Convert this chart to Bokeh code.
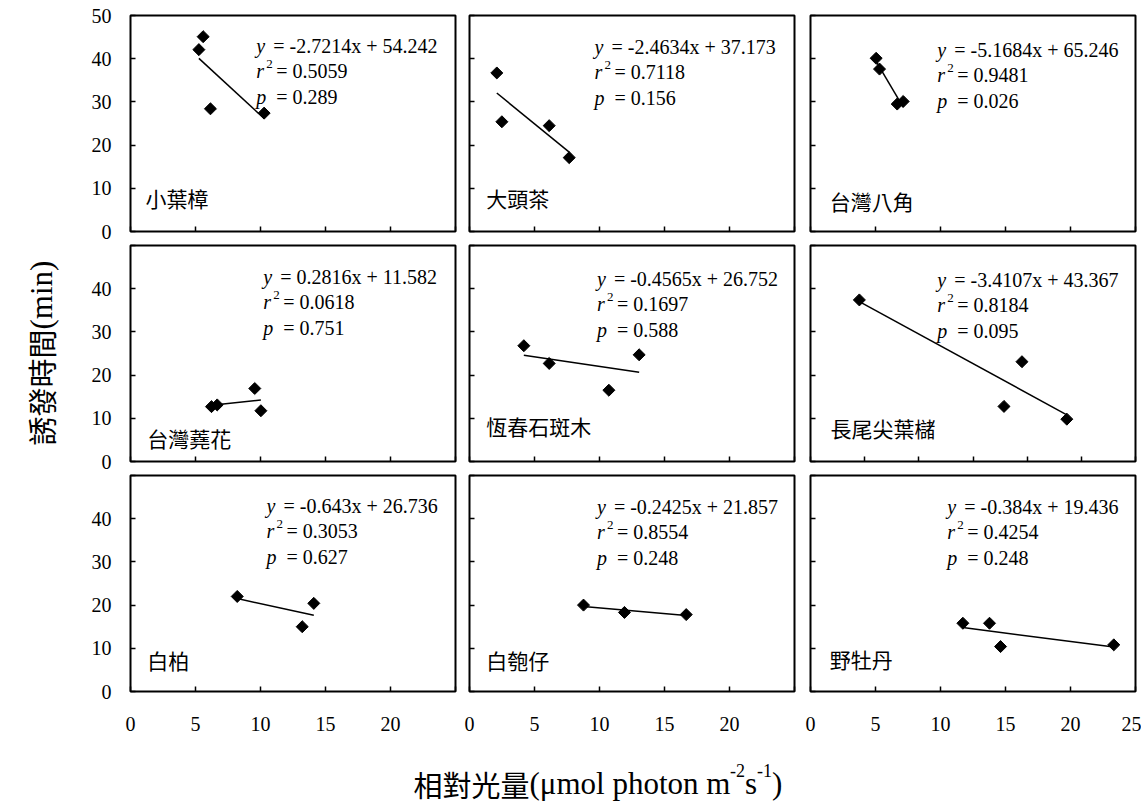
import numpy as np
from bokeh.plotting import figure
from bokeh.layouts import column, row
from bokeh.models import FixedTicker, Range1d, ColumnDataSource
from bokeh.core.properties import value
from bokeh.embed import file_html
from bokeh.resources import INLINE

SERIF = "Liberation Serif"
CJK = "Noto Sans CJK TC"

# Species shown in the 3 x 3 panels (row by row)
species = ["小葉樟", "大頭茶", "台灣八角",
           "台灣蕘花", "恆春石斑木", "長尾尖葉櫧",
           "白柏", "白匏仔", "野牡丹"]

# Relative light (µmol photon m-2 s-1) and induction time (min) per species
light_xiaoyezhang = [5.59, 5.26, 6.15, 10.28]
time_xiaoyezhang = [45.1, 42.1, 28.4, 27.4]
light_datoucha = [2.10, 2.49, 6.13, 7.67]
time_datoucha = [36.7, 25.4, 24.5, 17.1]
light_bajiao = [5.05, 5.31, 6.67, 7.13]
time_bajiao = [40.1, 37.6, 29.5, 30.1]
light_raohua = [6.23, 6.67, 9.56, 10.03]
time_raohua = [12.7, 13.1, 16.9, 11.75]
light_shibanmu = [4.18, 6.13, 10.72, 13.05]
time_shibanmu = [26.8, 22.7, 16.5, 24.7]
light_zhu = [4.51, 17.86, 19.52, 23.66]
time_zhu = [37.4, 12.75, 23.1, 9.8]
light_baibo = [8.21, 13.21, 14.10]
time_baibo = [22.0, 15.0, 20.4]
light_baipaozai = [8.77, 11.92, 16.67]
time_baipaozai = [20.0, 18.3, 17.8]
light_yemudan = [11.72, 13.77, 14.62, 23.33]
time_yemudan = [15.8, 15.8, 10.4, 10.8]

light_sets = [light_xiaoyezhang, light_datoucha, light_bajiao,
              light_raohua, light_shibanmu, light_zhu,
              light_baibo, light_baipaozai, light_yemudan]
time_sets = [time_xiaoyezhang, time_datoucha, time_bajiao,
             time_raohua, time_shibanmu, time_zhu,
             time_baibo, time_baipaozai, time_yemudan]

# Regression annotations
eq_rhs = ["= -2.7214x + 54.242", "= -2.4634x + 37.173", "= -5.1684x + 65.246",
          "= 0.2816x + 11.582", "= -0.4565x + 26.752", "= -3.4107x + 43.367",
          "= -0.643x + 26.736", "= -0.2425x + 21.857", "= -0.384x + 19.436"]
r2_text = ["= 0.5059", "= 0.7118", "= 0.9481",
           "= 0.0618", "= 0.1697", "= 0.8184",
           "= 0.3053", "= 0.8554", "= 0.4254"]
p_text = ["= 0.289", "= 0.156", "= 0.026",
          "= 0.751", "= 0.588", "= 0.095",
          "= 0.627", "= 0.248", "= 0.248"]

x_max = [25, 25, 25, 25, 25, 30, 25, 25, 25]
y_ticks = [0, 10, 20, 30, 40, 50]

# ---- layout geometry (pixels) ----
YT_W = 70                      # strip holding the vertical axis title
FRAME_W, FRAME_H = 325, 216
col_left = [60, 7, 8]
col_right = [7, 8, 6]
row_top = [15, 1, 1]
row_bottom = [13, 13, 48]
GRID_H = sum(row_top) + 3 * FRAME_H + sum(row_bottom)
GRID_W = YT_W + sum(col_left) + 3 * FRAME_W + sum(col_right)

# annotation placement inside each frame (pixels from frame left / top / bottom)
eq_left_px = [125.7, 125, 126.7, 132.7, 127.4, 126.7, 136, 127.4, 136.7]
eq_top_px = [30, 31.7, 34, 31.7, 33.3, 34, 30, 31.7, 31.7]
name_left_px = [15, 16.7, 19.3, 16.7, 16.7, 20, 16.7, 16.7, 19.3]
name_bottom_px = [33.7, 34, 30.7, 23.4, 35.7, 34, 31.4, 31.7, 32.4]


def style_axis(ax):
    ax.axis_line_color = None
    ax.major_tick_in = 5
    ax.major_tick_out = 0
    ax.minor_tick_line_color = None
    ax.major_tick_line_color = "black"
    ax.major_tick_line_width = 1.5
    ax.major_label_text_font = SERIF
    ax.major_label_text_font_size = "20px"
    ax.major_label_text_color = "black"


def hide_labels(ax):
    ax.major_label_text_color = None
    ax.major_label_text_font_size = "1px"
    ax.major_label_standoff = 0


def blank_strip(w, h):
    f = figure(width=w, height=h, x_range=Range1d(0, w), y_range=Range1d(0, h),
               x_axis_type=None, y_axis_type=None, title=None,
               min_border_left=0, min_border_right=0,
               min_border_top=0, min_border_bottom=0,
               output_backend="svg", toolbar_location=None)
    f.grid.visible = False
    f.outline_line_color = None
    f.background_fill_color = "white"
    f.border_fill_color = "white"
    return f


def make_panel(i):
    r, c = divmod(i, 3)
    xm = x_max[i]
    p = figure(width=col_left[c] + FRAME_W + col_right[c],
               height=row_top[r] + FRAME_H + row_bottom[r],
               x_range=Range1d(0, xm), y_range=Range1d(0, 50),
               min_border_left=col_left[c], min_border_right=col_right[c],
               min_border_top=row_top[r], min_border_bottom=row_bottom[r],
               output_backend="svg", toolbar_location=None)
    p.grid.visible = False
    p.outline_line_color = "black"
    p.outline_line_width = 2
    p.outline_line_alpha = 1
    p.background_fill_color = "white"
    p.border_fill_color = "white"

    xa, ya = p.xaxis[0], p.yaxis[0]
    style_axis(xa)
    style_axis(ya)
    xa.ticker = FixedTicker(ticks=list(range(0, xm + 1, 5)))
    ya.ticker = FixedTicker(ticks=y_ticks)

    if r < 2:
        hide_labels(xa)
    else:
        xa.major_label_standoff = 25
        if c < 2:
            xa.major_label_overrides = {25: ""}
    if c > 0:
        hide_labels(ya)
    else:
        ya.major_label_standoff = 19
        if r > 0:
            ya.major_label_overrides = {50: ""}

    xs = np.array(light_sets[i], dtype=float)
    ys = np.array(time_sets[i], dtype=float)

    # least-squares trend line over the observed light range
    slope, icpt = np.polyfit(xs, ys, 1)
    lx = np.array([xs.min(), xs.max()])
    p.line(lx, slope * lx + icpt, line_color="black", line_width=1.5)

    src = ColumnDataSource(dict(x=xs, y=ys))
    p.scatter("x", "y", source=src, marker="square", size=8.5,
              angle=np.pi / 4, fill_color="black", line_color="black")

    px_x = xm / FRAME_W
    px_y = 50 / FRAME_H
    ex = eq_left_px[i] * px_x
    base = [50 - (eq_top_px[i] + d) * px_y for d in (0, 25, 51)]
    common = dict(text_font_size="20px", text_color="black",
                  text_baseline="alphabetic", text_align="left")
    p.text(x=[ex], y=[base[0]], text=["y"], text_font=value(SERIF),
           text_font_style="italic", **common)
    p.text(x=[ex], y=[base[0]], text=[eq_rhs[i]], text_font=value(SERIF),
           x_offset=17, **common)
    p.text(x=[ex], y=[base[1]], text=["r"], text_font=value(SERIF),
           text_font_style="italic", **common)
    p.text(x=[ex], y=[base[1]], text=["2"], text_font=value(SERIF),
           x_offset=10, y_offset=-7, text_font_size="13px", text_color="black",
           text_baseline="alphabetic", text_align="left")
    p.text(x=[ex], y=[base[1]], text=[r2_text[i]], text_font=value(SERIF),
           x_offset=20, **common)
    p.text(x=[ex], y=[base[2]], text=["p"], text_font=value(SERIF),
           text_font_style="italic", **common)
    p.text(x=[ex], y=[base[2]], text=[p_text[i]], text_font=value(SERIF),
           x_offset=20, **common)

    p.text(x=[name_left_px[i] * px_x], y=[name_bottom_px[i] * px_y],
           text=[species[i]], text_font=value(CJK), text_font_size="21px",
           text_color="black", text_baseline="middle", text_align="left")
    return p


panels = [make_panel(i) for i in range(9)]

# vertical axis title, reading bottom to top
yt = blank_strip(YT_W, GRID_H)
rot = dict(text_color="black", text_baseline="alphabetic", text_align="left",
           angle=np.pi / 2)
yt.text(x=[40], y=[GRID_H - 445], text=["誘發時間"], text_font=value(CJK),
        text_font_size="29px", **rot)
yt.text(x=[41], y=[GRID_H - 329], text=["(min)"], text_font=value(SERIF),
        text_font_size="31px", **rot)

# horizontal axis title
XT_H = 66
xt = blank_strip(GRID_W, XT_H)
x0, yb = 413, 22
tcommon = dict(text_color="black", text_baseline="alphabetic", text_align="left")
xt.text(x=[x0], y=[yb], text=["相對光量"], text_font=value(CJK),
        text_font_size="29px", **tcommon)
xt.text(x=[x0 + 116], y=[yb], text=["(μmol photon m"], text_font=value(SERIF),
        text_font_size="31px", **tcommon)
xt.text(x=[x0 + 316.5], y=[yb], text=["-2"], text_font=value(SERIF),
        text_font_size="18px", y_offset=-13, **tcommon)
xt.text(x=[x0 + 331.5], y=[yb], text=["s"], text_font=value(SERIF),
        text_font_size="31px", **tcommon)
xt.text(x=[x0 + 343.6], y=[yb], text=["-1"], text_font=value(SERIF),
        text_font_size="18px", y_offset=-13, **tcommon)
xt.text(x=[x0 + 358.6], y=[yb], text=[")"], text_font=value(SERIF),
        text_font_size="31px", **tcommon)

grid = column(row(*panels[0:3]), row(*panels[3:6]), row(*panels[6:9]))
layout = column(row(yt, grid), xt)

open("out.html", "w").write(file_html(layout, INLINE))
